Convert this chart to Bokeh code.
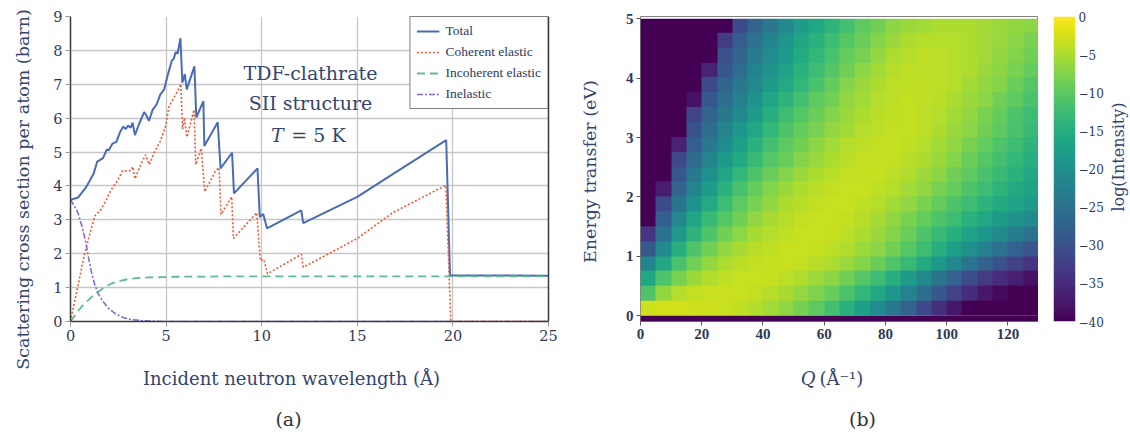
import numpy as np
from math import pi
from bokeh.plotting import figure
from bokeh.models import (Range1d, Label, Legend, LegendItem, LinearColorMapper,
                          FixedTicker, CustomJSTickFormatter, LinearAxis, InlineStyleSheet)
from bokeh.layouts import row, column
from bokeh.palettes import Viridis256
from bokeh.embed import file_html
from bokeh.resources import INLINE

# ---------------- panel (a) data: cross sections vs wavelength ----------------
total_wl = [0, 0.4, 0.8, 1.2, 1.4, 1.7, 1.9, 2.0, 2.2, 2.4, 2.6, 2.75, 2.9, 3.0, 3.15, 3.25,
            3.37, 3.6, 3.85, 3.95, 4.1, 4.3, 4.5, 4.7, 4.9, 5.1, 5.3, 5.4, 5.5, 5.6, 5.75,
            5.85, 5.98, 6.08, 6.48, 6.58, 6.95, 7.0, 7.7, 7.85, 8.45, 8.55, 9.78, 9.9,
            10.08, 10.28, 12.07, 12.17, 15.0, 17.0, 19.65, 19.85, 25.0]
total_xs = [3.59, 3.66, 3.95, 4.35, 4.72, 4.82, 5.08, 5.05, 5.25, 5.3, 5.6, 5.75, 5.68, 5.78,
            5.72, 5.87, 5.5, 5.85, 6.18, 6.1, 5.92, 6.25, 6.4, 6.7, 6.85, 7.3, 7.7, 7.75,
            7.95, 7.9, 8.36, 7.05, 7.3, 6.85, 7.53, 6.02, 6.5, 5.18, 5.88, 4.52, 4.98, 3.78,
            4.52, 3.08, 3.17, 2.75, 3.28, 2.9, 3.68, 4.4, 5.35, 1.36, 1.35]

coh_wl = [0, 0.38, 0.73, 0.99, 1.28, 1.6, 1.87, 2.13, 2.45, 2.72, 2.98, 3.17, 3.26, 3.37,
          3.69, 3.93, 4.12, 4.4, 4.68, 4.96, 5.15, 5.43, 5.62, 5.77, 5.86, 5.96, 6.09, 6.46,
          6.55, 6.84, 7.02, 7.58, 7.77, 7.87, 8.43, 8.52, 9.74, 9.93, 10.11, 10.3, 12.08,
          12.17, 15.0, 16.85, 19.63, 19.89, 25.0]
coh_xs = [0, 1.03, 1.98, 2.55, 3.12, 3.31, 3.59, 3.89, 4.14, 4.45, 4.44, 4.46, 4.57, 4.21,
          4.65, 4.92, 4.63, 5.01, 5.3, 5.73, 6.34, 6.63, 6.82, 7.01, 5.68, 6.01, 5.44, 6.25,
          4.63, 5.11, 3.83, 4.44, 4.54, 3.16, 3.68, 2.45, 3.21, 1.79, 1.83, 1.41, 1.98,
          1.6, 2.45, 3.21, 4.02, 0, 0]

incoh_wl = [0, 0.56, 1.1, 1.6, 2.13, 2.6, 3.0, 3.5, 4.05, 4.9, 5.6, 8.0, 12.0, 19.8, 25.0]
incoh_xs = [0, 0.43, 0.72, 0.94, 1.12, 1.2, 1.25, 1.28, 1.3, 1.31, 1.32, 1.33, 1.33, 1.33, 1.33]

inel_wl = [0, 0.38, 0.64, 0.82, 0.94, 1.08, 1.25, 1.43, 1.69, 1.95, 2.3, 2.74, 3.17, 3.87,
           4.9, 25.0]
inel_xs = [3.6, 3.22, 2.74, 2.27, 1.89, 1.5, 1.12, 0.84, 0.6, 0.41, 0.25, 0.12, 0.06, 0.02,
           0.0, 0.0]

series_names = ["Total", "Coherent elastic", "Incoherent elastic", "Inelastic"]
wl_ticks = [0, 5, 10, 15, 20, 25]
xs_ticks = [0, 1, 2, 3, 4, 5, 6, 7, 8, 9]

# ---------------- panel (b) data: log(intensity) map ----------------
q_min, q_max = 0, 130          # Q extent (1/Å); 26 columns of 5 1/Å
e_min, e_max = 0, 5            # energy extent (eV); 20 rows of 0.25 eV
e_strip_min = -0.097           # lower strip (E < 0)
log_intensity = [
    [-3, -2.8, -2.8, -2.9, -3.1, -3.4, -3.9, -4.6, -5.5, -6.7, -8.2, -10, -12, -14.5, -17.5, -20.5, -24, -27.5, -31, -34.5, -37.5, -40, -40, -40, -40, -40],
    [-11, -6.5, -4.5, -3.7, -3.3, -3.2, -3.3, -3.7, -4.3, -5.2, -6.3, -7.7, -9.3, -11.3, -13.5, -16, -19, -22, -25.5, -29, -32, -35, -37.5, -39, -40, -40],
    [-16, -11, -8, -6, -4.6, -3.8, -3.4, -3.3, -3.5, -4, -4.8, -5.8, -7, -8.5, -10.5, -12.5, -15, -18, -21, -24.5, -27.5, -30.5, -33, -35, -36.5, -38],
    [-22, -16, -11.5, -8.5, -6.5, -5, -4.2, -3.6, -3.3, -3.3, -3.6, -4.2, -5, -6, -7.5, -9, -11, -13, -15.5, -18.5, -21.5, -24.5, -27.5, -30, -32, -34],
    [-29, -21, -15, -11, -8.5, -6.5, -5.2, -4.3, -3.8, -3.4, -3.3, -3.5, -4, -4.8, -5.8, -7, -8.5, -10.5, -12.5, -15, -17.5, -20, -22.5, -25, -27.5, -29.5],
    [-34, -25, -18.5, -14, -11, -8.5, -6.8, -5.3, -4.4, -3.8, -3.4, -3.3, -3.5, -4, -5, -6, -7.5, -9, -11, -13, -15, -17, -19, -21, -23, -25],
    [-40, -28, -21.5, -16.5, -13, -10.5, -8.5, -6.5, -5.2, -4.3, -3.7, -3.4, -3.3, -3.6, -4.3, -5.2, -6.5, -8, -9.5, -11, -12.5, -14.5, -16, -18, -19.5, -21],
    [-40, -31, -24.5, -19.5, -15.5, -12.5, -10, -8, -6.5, -5, -4.3, -3.7, -3.4, -3.4, -3.8, -4.5, -5.5, -6.5, -8, -9.5, -11, -12.5, -14, -15.5, -17, -18.5],
    [-40, -37, -27, -22, -18, -14.5, -11.5, -9.5, -7.5, -6, -5, -4.2, -3.6, -3.4, -3.4, -3.8, -4.5, -5.5, -6.5, -8, -9.5, -11, -12.5, -14, -15.5, -17],
    [-40, -40, -29, -24, -20, -16.5, -13.5, -11, -9, -7.5, -6, -5, -4.2, -3.7, -3.5, -3.5, -4, -4.8, -5.8, -7, -8.5, -10, -11.5, -13, -14.5, -16],
    [-40, -40, -31, -26, -22, -18.5, -15.5, -13, -10.5, -9, -7.5, -6, -5, -4.2, -3.7, -3.5, -3.6, -4.2, -5, -6, -7.5, -9, -10.5, -12, -13.5, -15],
    [-40, -40, -36, -28, -24, -20.5, -17.5, -14.5, -12, -10, -8.5, -7, -5.5, -4.5, -4, -3.6, -3.5, -3.8, -4.5, -5.5, -6.5, -8, -9.5, -11, -12.5, -14],
    [-40, -40, -40, -30, -25.5, -22, -19, -16, -13.5, -11, -9.5, -8, -6.5, -5.5, -4.5, -4, -3.6, -3.6, -4, -5, -6, -7, -8.5, -10, -11.5, -13],
    [-40, -40, -40, -32, -27, -24, -21, -18, -15, -12.5, -10.5, -9, -7.5, -6, -5, -4.2, -3.8, -3.6, -4, -4.5, -5.5, -6.5, -8, -9.5, -11, -12.5],
    [-40, -40, -40, -38, -29, -25.5, -22.5, -19.5, -16.5, -14, -12, -10, -8.5, -6.5, -5.5, -4.5, -4, -3.7, -3.8, -4.2, -5, -6, -7, -8.5, -10, -11.5],
    [-40, -40, -40, -40, -31, -27, -24, -21, -18, -15.5, -13.5, -11.5, -9.5, -7.5, -6, -5, -4, -3.8, -3.8, -4, -4.5, -5.5, -6.5, -7.5, -9, -10.5],
    [-40, -40, -40, -40, -36, -29, -25.5, -22, -19.5, -17, -14.5, -12.5, -10.5, -8.5, -7, -5.5, -4.5, -4, -4, -4, -4.5, -5, -6, -7, -8, -9.5],
    [-40, -40, -40, -40, -40, -30, -27, -23.5, -20.5, -18, -15.5, -13.5, -11.5, -9.5, -8, -6.5, -5, -4.5, -4, -4, -4.5, -5, -5.5, -6.5, -7.5, -8.5],
    [-40, -40, -40, -40, -40, -33, -28, -25, -22, -19, -16.5, -14.5, -12.5, -10.5, -9, -7.5, -6, -5, -4.5, -4.5, -4.5, -5, -5.5, -6, -7, -8],
    [-40, -40, -40, -40, -40, -40, -31, -27, -24, -21, -18, -16, -14, -12, -10, -8.5, -7, -6, -5.5, -5, -5, -5, -5.5, -6, -6.5, -7],
]
strip_values = [[-40] * 26]
q_ticks = [0, 20, 40, 60, 80, 100, 120]
e_ticks = [0, 1, 2, 3, 4, 5]
cbar_ticks = [0, -5, -10, -15, -20, -25, -30, -35, -40]
cbar_low, cbar_high = -40, 0

# ---------------- styling ----------------
SERIF = "DejaVu Serif"
NAVY = "#33456d"
TICK = "#2e3a55"
H1 = 358          # plotting row height
H2 = 438 - H1     # caption row height
smooth_css = InlineStyleSheet(css="image { image-rendering: auto !important; }")


def lab(fig, x, y, text, size="17px", angle=0, align="center", style="normal",
        color=NAVY, font=SERIF):
    fig.add_layout(Label(x=x, y=y, text=text, angle=angle, text_align=align,
                         text_baseline="middle", text_font=font, text_font_size=size,
                         text_color=color, text_font_style=style))


def blank(width, height):
    f = figure(width=width, height=height, x_range=Range1d(0, width),
               y_range=Range1d(0, height), output_backend="svg", toolbar_location=None,
               x_axis_location=None, y_axis_location=None,
               min_border_left=0, min_border_right=0, min_border_top=0, min_border_bottom=0)
    f.grid.grid_line_color = None
    f.outline_line_color = None
    return f


# ================= panel (a) =================
p1 = figure(width=533, height=H1, x_range=Range1d(0, 25), y_range=Range1d(0, 9),
            output_backend="svg", toolbar_location=None,
            min_border_left=30, min_border_right=25, min_border_top=10,
            min_border_bottom=H1 - 326)
p1.xaxis.ticker = FixedTicker(ticks=wl_ticks)
p1.yaxis.ticker = FixedTicker(ticks=xs_ticks)
for ax in (p1.xaxis, p1.yaxis):
    ax.major_label_text_font = SERIF
    ax.major_label_text_font_size = "14.5px"
    ax.major_label_text_color = TICK
    ax.axis_line_color = "#3a3a3a"
    ax.axis_line_width = 1.5
    ax.major_tick_out = 5
    ax.major_tick_in = 0
    ax.major_tick_line_color = "#9a9a9a"
    ax.minor_tick_line_color = None
    ax.major_label_standoff = 3
right_edge = LinearAxis(ticker=FixedTicker(ticks=[]), major_tick_line_color=None,
                        minor_tick_line_color=None, axis_line_color="#3a3a3a",
                        axis_line_width=1.5)
p1.add_layout(right_edge, "right")
p1.xgrid.ticker = FixedTicker(ticks=wl_ticks)
p1.ygrid.ticker = FixedTicker(ticks=xs_ticks)
p1.grid.grid_line_color = "#c6c6c6"
p1.grid.grid_line_width = 1.3
p1.outline_line_color = None

r_tot = p1.line(total_wl, total_xs, line_color="#4a6cb5", line_width=2)
r_coh = p1.line(coh_wl, coh_xs, line_color="#ea5a3a", line_width=1.6, line_dash="2 2")
r_inc = p1.line(incoh_wl, incoh_xs, line_color="#5dbb8e", line_width=1.8, line_dash="8 5")
r_ine = p1.line(inel_wl, inel_xs, line_color="#7d66c4", line_width=1.5, line_dash="6 2 2 2")

legend = Legend(items=[LegendItem(label=n, renderers=[r]) for n, r in
                       zip(series_names, [r_tot, r_coh, r_inc, r_ine])],
                location="top_right", margin=0, padding=6, spacing=5,
                glyph_width=23, glyph_height=16, label_height=16, label_standoff=6,
                label_text_font="Liberation Serif", label_text_font_size="13.5px",
                label_text_color=TICK, border_line_color="black", border_line_width=1.5,
                background_fill_alpha=1.0)
p1.add_layout(legend)

lab(p1, 12.55, 7.34, "TDF-clathrate", size="19px")
lab(p1, 12.55, 6.44, "SII structure", size="19px")
lab(p1, 10.49, 5.51, "T", size="19px", align="left", style="italic")
lab(p1, 11.55, 5.51, "= 5 K", size="19px", align="left")

# y-title of panel (a), in a narrow strip to the left
p0a = blank(40, 438)
lab(p0a, 22, 438 - 189, "Scattering cross section per atom (barn)", size="17.5px",
    angle=pi / 2)

# y-title of panel (b)
p0b = blank(49, H1)
lab(p0b, 16, H1 - 182, "Energy transfer (eV)", size="17.5px", angle=pi / 2)

# ================= panel (b) =================
mapper = LinearColorMapper(palette=Viridis256, low=cbar_low, high=cbar_high)
p2 = figure(width=416, height=H1, x_range=Range1d(q_min, q_max),
            y_range=Range1d(e_strip_min, 5.038),
            output_backend="svg", toolbar_location=None,
            min_border_left=16, min_border_right=0, min_border_top=8,
            min_border_bottom=H1 - 326)
p2.stylesheets = [smooth_css]
p2.image(image=[np.array(log_intensity, dtype=float)], x=q_min, y=e_min,
         dw=q_max - q_min, dh=e_max - e_min, color_mapper=mapper)
p2.image(image=[np.array(strip_values, dtype=float)], x=q_min, y=e_strip_min,
         dw=q_max - q_min, dh=e_min - e_strip_min, color_mapper=mapper)
p2.xaxis.ticker = FixedTicker(ticks=q_ticks)
p2.yaxis.ticker = FixedTicker(ticks=e_ticks)
for ax in (p2.xaxis, p2.yaxis):
    ax.major_label_text_font = "Liberation Serif"
    ax.major_label_text_font_size = "15px"
    ax.major_label_text_font_style = "bold"
    ax.major_label_text_color = TICK
    ax.axis_line_color = None
    ax.major_tick_out = 4
    ax.major_tick_in = 0
    ax.major_tick_line_color = "#555555"
    ax.minor_tick_line_color = None
    ax.major_label_standoff = 3
p2.grid.grid_line_color = None
p2.outline_line_color = "#808080"
p2.outline_line_width = 1

# ================= colour bar =================
cbar_levels = np.linspace(cbar_low, cbar_high, 256).reshape(256, 1)
p3 = figure(width=68, height=H1, x_range=Range1d(0, 1), y_range=Range1d(cbar_low, cbar_high),
            output_backend="svg", toolbar_location=None, x_axis_location=None,
            y_axis_location="right",
            min_border_left=15, min_border_right=28, min_border_top=16,
            min_border_bottom=H1 - 321)
p3.image(image=[cbar_levels], x=0, y=cbar_low, dw=1, dh=cbar_high - cbar_low,
         color_mapper=mapper)
p3.yaxis.ticker = FixedTicker(ticks=cbar_ticks)
p3.yaxis.formatter = CustomJSTickFormatter(
    code="return tick < 0 ? '\\u2212' + Math.abs(tick) : tick.toString();")
p3.yaxis.major_label_text_font = SERIF
p3.yaxis.major_label_text_font_size = "12px"
p3.yaxis.major_label_text_color = TICK
p3.yaxis.axis_line_color = None
p3.yaxis.major_tick_out = 0
p3.yaxis.major_tick_in = 0
p3.yaxis.minor_tick_line_color = None
p3.yaxis.major_label_standoff = 3
p3.grid.grid_line_color = None
p3.outline_line_color = None

p4 = blank(24, H1)
lab(p4, 12, H1 - 165, "log(Intensity)", size="16px", angle=pi / 2)

# ================= x-titles and captions =================
pa = blank(533, H2)
lab(pa, 251, H2 - 20, "Incident neutron wavelength (Å)", size="18px")
lab(pa, 248, H2 - 60, "(a)", size="19px", color="#333333")
pb = blank(557, H2)
lab(pb, 242, H2 - 20, "Q", size="18px", align="right", style="italic")
lab(pb, 246, H2 - 20, "(Å⁻¹)", size="18px", align="left")
lab(pb, 289, H2 - 60, "(b)", size="19px", color="#333333")

layout = row(p0a,
             column(row(p1, p0b, p2, p3, p4, spacing=0), row(pa, pb, spacing=0), spacing=0),
             spacing=0)
open("out.html", "w").write(file_html(layout, INLINE))
